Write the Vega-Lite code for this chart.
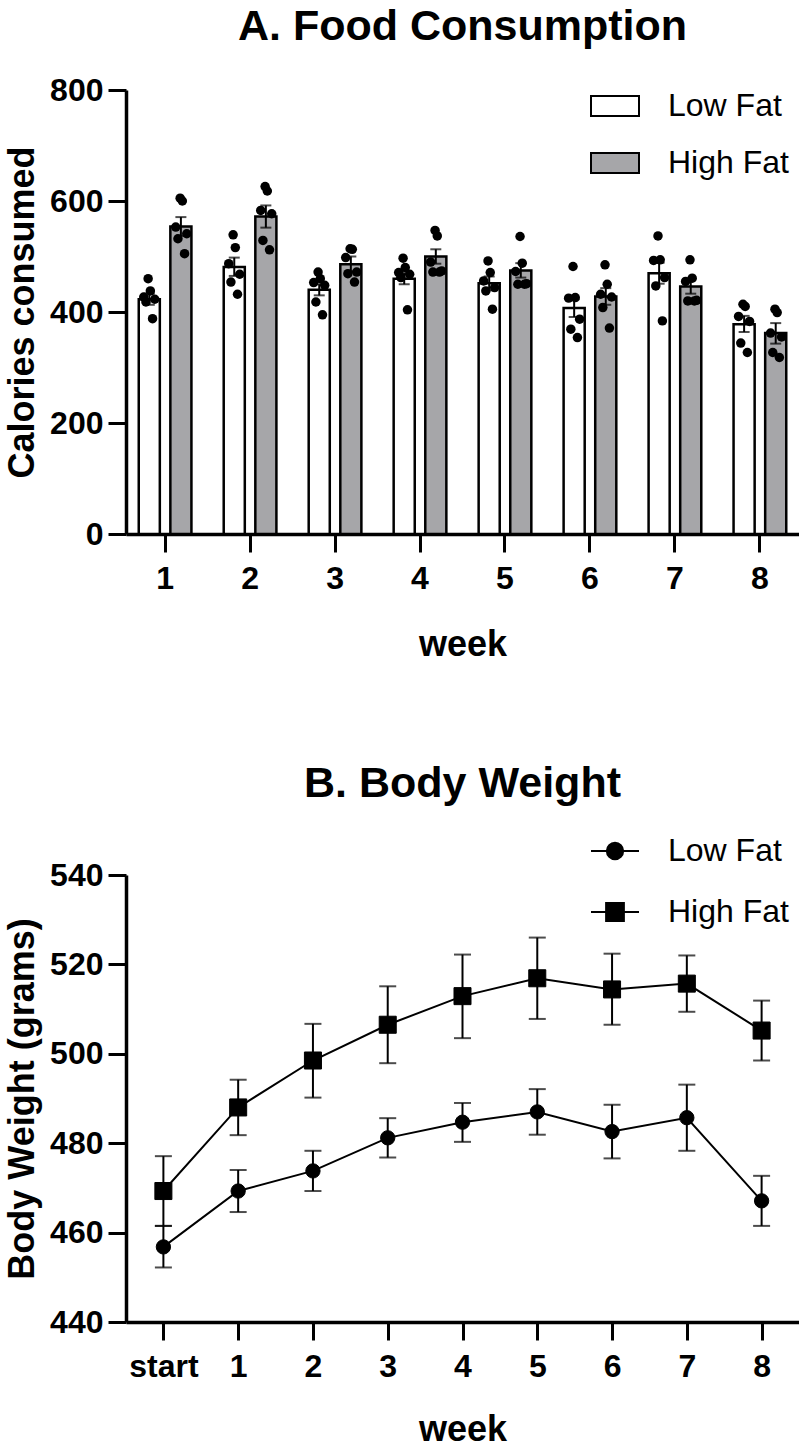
{
  "$schema": "https://vega.github.io/schema/vega-lite/v6.json",
  "background": "white",
  "padding": {"left": 4, "top": 6, "right": 0, "bottom": 0},
  "spacing": 101,
  "resolve": {"legend": {"fill": "independent", "color": "independent"}},
  "config": {
    "font": "Liberation Sans",
    "view": {"stroke": null},
    "axis": {"domainColor": "black", "domainWidth": 3.5, "tickColor": "black", "tickWidth": 3, "tickSize": 18, "labelFont": "Liberation Sans", "labelFontSize": 32, "labelFontWeight": "bold", "labelColor": "black", "titleFont": "Liberation Sans", "titleFontSize": 36, "titleFontWeight": "bold", "titleColor": "black", "grid": false},
    "axisX": {"labelAngle": 0, "labelPadding": 11, "titlePadding": 33},
    "axisY": {"labelPadding": 5, "titlePadding": 8},
    "title": {"font": "Liberation Sans", "fontSize": 43, "fontWeight": "bold", "color": "black", "anchor": "middle", "frame": "group"},
    "legend": {"labelFont": "Liberation Sans", "labelFontSize": 32, "labelColor": "black", "padding": 0}
  },
  "datasets": {
    "food": [
      {"week": 1, "diet": "Low Fat", "mean": 423, "lo": 413, "hi": 433},
      {"week": 1, "diet": "High Fat", "mean": 554, "lo": 537, "hi": 571},
      {"week": 2, "diet": "Low Fat", "mean": 481, "lo": 465, "hi": 498},
      {"week": 2, "diet": "High Fat", "mean": 572, "lo": 552, "hi": 592},
      {"week": 3, "diet": "Low Fat", "mean": 440, "lo": 430, "hi": 450},
      {"week": 3, "diet": "High Fat", "mean": 486, "lo": 473, "hi": 500},
      {"week": 4, "diet": "Low Fat", "mean": 460, "lo": 450, "hi": 470},
      {"week": 4, "diet": "High Fat", "mean": 500, "lo": 487, "hi": 513},
      {"week": 5, "diet": "Low Fat", "mean": 452, "lo": 439, "hi": 464},
      {"week": 5, "diet": "High Fat", "mean": 475, "lo": 462, "hi": 488},
      {"week": 6, "diet": "Low Fat", "mean": 407, "lo": 391, "hi": 423},
      {"week": 6, "diet": "High Fat", "mean": 428, "lo": 413, "hi": 443},
      {"week": 7, "diet": "Low Fat", "mean": 470, "lo": 451, "hi": 489},
      {"week": 7, "diet": "High Fat", "mean": 446, "lo": 433, "hi": 458},
      {"week": 8, "diet": "Low Fat", "mean": 378, "lo": 364, "hi": 393},
      {"week": 8, "diet": "High Fat", "mean": 362, "lo": 343, "hi": 380}
    ],
    "dots": [
      {"week": 1, "diet": "Low Fat", "rat": 3, "kcal": 460}, {"week": 1, "diet": "Low Fat", "rat": 4, "kcal": 438}, {"week": 1, "diet": "Low Fat", "rat": 1, "kcal": 427}, {"week": 1, "diet": "Low Fat", "rat": 6, "kcal": 423}, {"week": 1, "diet": "Low Fat", "rat": 2, "kcal": 418}, {"week": 1, "diet": "Low Fat", "rat": 5, "kcal": 388},
      {"week": 1, "diet": "High Fat", "rat": 3, "kcal": 605}, {"week": 1, "diet": "High Fat", "rat": 4, "kcal": 600}, {"week": 1, "diet": "High Fat", "rat": 1, "kcal": 553}, {"week": 1, "diet": "High Fat", "rat": 6, "kcal": 541}, {"week": 1, "diet": "High Fat", "rat": 2, "kcal": 532}, {"week": 1, "diet": "High Fat", "rat": 5, "kcal": 505},
      {"week": 2, "diet": "Low Fat", "rat": 3, "kcal": 539}, {"week": 2, "diet": "Low Fat", "rat": 4, "kcal": 516}, {"week": 2, "diet": "Low Fat", "rat": 1, "kcal": 487}, {"week": 2, "diet": "Low Fat", "rat": 6, "kcal": 468}, {"week": 2, "diet": "Low Fat", "rat": 2, "kcal": 454}, {"week": 2, "diet": "Low Fat", "rat": 5, "kcal": 432},
      {"week": 2, "diet": "High Fat", "rat": 3, "kcal": 626}, {"week": 2, "diet": "High Fat", "rat": 4, "kcal": 618}, {"week": 2, "diet": "High Fat", "rat": 1, "kcal": 583}, {"week": 2, "diet": "High Fat", "rat": 6, "kcal": 577}, {"week": 2, "diet": "High Fat", "rat": 2, "kcal": 529}, {"week": 2, "diet": "High Fat", "rat": 5, "kcal": 512},
      {"week": 3, "diet": "Low Fat", "rat": 3, "kcal": 472}, {"week": 3, "diet": "Low Fat", "rat": 4, "kcal": 460}, {"week": 3, "diet": "Low Fat", "rat": 1, "kcal": 453}, {"week": 3, "diet": "Low Fat", "rat": 6, "kcal": 448}, {"week": 3, "diet": "Low Fat", "rat": 2, "kcal": 418}, {"week": 3, "diet": "Low Fat", "rat": 5, "kcal": 395},
      {"week": 3, "diet": "High Fat", "rat": 3, "kcal": 514}, {"week": 3, "diet": "High Fat", "rat": 4, "kcal": 513}, {"week": 3, "diet": "High Fat", "rat": 1, "kcal": 498}, {"week": 3, "diet": "High Fat", "rat": 6, "kcal": 472}, {"week": 3, "diet": "High Fat", "rat": 2, "kcal": 469}, {"week": 3, "diet": "High Fat", "rat": 5, "kcal": 454},
      {"week": 4, "diet": "Low Fat", "rat": 3, "kcal": 497}, {"week": 4, "diet": "Low Fat", "rat": 4, "kcal": 480}, {"week": 4, "diet": "Low Fat", "rat": 1, "kcal": 471}, {"week": 4, "diet": "Low Fat", "rat": 6, "kcal": 468}, {"week": 4, "diet": "Low Fat", "rat": 2, "kcal": 462}, {"week": 4, "diet": "Low Fat", "rat": 5, "kcal": 404},
      {"week": 4, "diet": "High Fat", "rat": 3, "kcal": 547}, {"week": 4, "diet": "High Fat", "rat": 4, "kcal": 537}, {"week": 4, "diet": "High Fat", "rat": 1, "kcal": 490}, {"week": 4, "diet": "High Fat", "rat": 6, "kcal": 474}, {"week": 4, "diet": "High Fat", "rat": 2, "kcal": 472}, {"week": 4, "diet": "High Fat", "rat": 5, "kcal": 472},
      {"week": 5, "diet": "Low Fat", "rat": 3, "kcal": 492}, {"week": 5, "diet": "Low Fat", "rat": 4, "kcal": 471}, {"week": 5, "diet": "Low Fat", "rat": 1, "kcal": 456}, {"week": 5, "diet": "Low Fat", "rat": 6, "kcal": 444}, {"week": 5, "diet": "Low Fat", "rat": 2, "kcal": 438}, {"week": 5, "diet": "Low Fat", "rat": 5, "kcal": 405},
      {"week": 5, "diet": "High Fat", "rat": 3, "kcal": 536}, {"week": 5, "diet": "High Fat", "rat": 4, "kcal": 488}, {"week": 5, "diet": "High Fat", "rat": 1, "kcal": 473}, {"week": 5, "diet": "High Fat", "rat": 6, "kcal": 451}, {"week": 5, "diet": "High Fat", "rat": 2, "kcal": 450}, {"week": 5, "diet": "High Fat", "rat": 5, "kcal": 450},
      {"week": 6, "diet": "Low Fat", "rat": 3, "kcal": 482}, {"week": 6, "diet": "Low Fat", "rat": 4, "kcal": 426}, {"week": 6, "diet": "Low Fat", "rat": 1, "kcal": 425}, {"week": 6, "diet": "Low Fat", "rat": 6, "kcal": 387}, {"week": 6, "diet": "Low Fat", "rat": 2, "kcal": 369}, {"week": 6, "diet": "Low Fat", "rat": 5, "kcal": 354},
      {"week": 6, "diet": "High Fat", "rat": 3, "kcal": 485}, {"week": 6, "diet": "High Fat", "rat": 4, "kcal": 450}, {"week": 6, "diet": "High Fat", "rat": 1, "kcal": 432}, {"week": 6, "diet": "High Fat", "rat": 6, "kcal": 427}, {"week": 6, "diet": "High Fat", "rat": 2, "kcal": 408}, {"week": 6, "diet": "High Fat", "rat": 5, "kcal": 371},
      {"week": 7, "diet": "Low Fat", "rat": 3, "kcal": 537}, {"week": 7, "diet": "Low Fat", "rat": 4, "kcal": 494}, {"week": 7, "diet": "Low Fat", "rat": 1, "kcal": 493}, {"week": 7, "diet": "Low Fat", "rat": 6, "kcal": 462}, {"week": 7, "diet": "Low Fat", "rat": 2, "kcal": 447}, {"week": 7, "diet": "Low Fat", "rat": 5, "kcal": 384},
      {"week": 7, "diet": "High Fat", "rat": 3, "kcal": 494}, {"week": 7, "diet": "High Fat", "rat": 4, "kcal": 461}, {"week": 7, "diet": "High Fat", "rat": 1, "kcal": 455}, {"week": 7, "diet": "High Fat", "rat": 6, "kcal": 421}, {"week": 7, "diet": "High Fat", "rat": 2, "kcal": 420}, {"week": 7, "diet": "High Fat", "rat": 5, "kcal": 420},
      {"week": 8, "diet": "Low Fat", "rat": 3, "kcal": 414}, {"week": 8, "diet": "Low Fat", "rat": 4, "kcal": 410}, {"week": 8, "diet": "Low Fat", "rat": 1, "kcal": 392}, {"week": 8, "diet": "Low Fat", "rat": 6, "kcal": 383}, {"week": 8, "diet": "Low Fat", "rat": 2, "kcal": 344}, {"week": 8, "diet": "Low Fat", "rat": 5, "kcal": 327},
      {"week": 8, "diet": "High Fat", "rat": 3, "kcal": 405}, {"week": 8, "diet": "High Fat", "rat": 4, "kcal": 399}, {"week": 8, "diet": "High Fat", "rat": 1, "kcal": 362}, {"week": 8, "diet": "High Fat", "rat": 6, "kcal": 355}, {"week": 8, "diet": "High Fat", "rat": 2, "kcal": 327}, {"week": 8, "diet": "High Fat", "rat": 5, "kcal": 318}
    ],
    "bw": [
      {"week": "start", "diet": "Low Fat", "mean": 456.8, "lo": 452.2, "hi": 461.5},
      {"week": "start", "diet": "High Fat", "mean": 469.3, "lo": 461.5, "hi": 477.1},
      {"week": "1", "diet": "Low Fat", "mean": 469.3, "lo": 464.6, "hi": 474.0},
      {"week": "1", "diet": "High Fat", "mean": 488.0, "lo": 481.8, "hi": 494.2},
      {"week": "2", "diet": "Low Fat", "mean": 473.8, "lo": 469.3, "hi": 478.3},
      {"week": "2", "diet": "High Fat", "mean": 498.5, "lo": 490.2, "hi": 506.7},
      {"week": "3", "diet": "Low Fat", "mean": 481.2, "lo": 476.8, "hi": 485.6},
      {"week": "3", "diet": "High Fat", "mean": 506.5, "lo": 497.9, "hi": 515.1},
      {"week": "4", "diet": "Low Fat", "mean": 484.7, "lo": 480.3, "hi": 489.0},
      {"week": "4", "diet": "High Fat", "mean": 512.9, "lo": 503.5, "hi": 522.2},
      {"week": "5", "diet": "Low Fat", "mean": 487.0, "lo": 481.9, "hi": 492.1},
      {"week": "5", "diet": "High Fat", "mean": 516.9, "lo": 507.8, "hi": 526.0},
      {"week": "6", "diet": "Low Fat", "mean": 482.6, "lo": 476.6, "hi": 488.6},
      {"week": "6", "diet": "High Fat", "mean": 514.4, "lo": 506.5, "hi": 522.4},
      {"week": "7", "diet": "Low Fat", "mean": 485.7, "lo": 478.3, "hi": 493.1},
      {"week": "7", "diet": "High Fat", "mean": 515.7, "lo": 509.4, "hi": 522.0},
      {"week": "8", "diet": "Low Fat", "mean": 467.1, "lo": 461.5, "hi": 472.7},
      {"week": "8", "diet": "High Fat", "mean": 505.2, "lo": 498.5, "hi": 511.9}
    ]
  },
  "vconcat": [
    {
      "title": {"text": "A. Food Consumption", "offset": 25},
      "width": 673,
      "height": 444,
      "resolve": {"scale": {"xOffset": "independent"}},
      "encoding": {
        "x": {"field": "week", "type": "ordinal", "scale": {"paddingInner": 0.38, "paddingOuter": 0.15}, "axis": {"title": "week"}}
      },
      "layer": [
        {
          "data": {"name": "food"},
          "mark": {"type": "bar", "stroke": "black", "strokeWidth": 2.5},
          "encoding": {
            "xOffset": {"field": "diet", "type": "nominal", "scale": {"domain": ["Low Fat", "High Fat"], "paddingInner": 0.333, "paddingOuter": 0}},
            "y": {"field": "mean", "type": "quantitative", "title": "Calories consumed", "scale": {"domain": [0, 800]}, "axis": {"values": [0, 200, 400, 600, 800]}},
            "fill": {"field": "diet", "type": "nominal", "scale": {"domain": ["Low Fat", "High Fat"], "range": ["white", "#a6a6a9"]},
              "legend": {"title": null, "orient": "none", "legendX": 464, "legendY": -9, "symbolType": "M-1,-0.42L1,-0.42L1,0.42L-1,0.42Z", "symbolSize": 2304, "symbolStrokeColor": "black", "symbolStrokeWidth": 2, "labelOffset": 28, "rowPadding": 16}}
          }
        },
        {
          "data": {"name": "food"},
          "mark": {"type": "rule", "color": "black", "strokeWidth": 2},
          "encoding": {
            "xOffset": {"field": "diet", "type": "nominal", "scale": {"domain": ["Low Fat", "High Fat"], "paddingInner": 0.333, "paddingOuter": 0}},
            "y": {"field": "lo", "type": "quantitative", "title": "Calories consumed"},
            "y2": {"field": "hi"}
          }
        },
        {
          "data": {"name": "food"},
          "mark": {"type": "tick", "color": "black", "size": 11, "thickness": 2},
          "encoding": {
            "xOffset": {"field": "diet", "type": "nominal", "scale": {"domain": ["Low Fat", "High Fat"], "paddingInner": 0.333, "paddingOuter": 0}},
            "y": {"field": "lo", "type": "quantitative", "title": "Calories consumed"}
          }
        },
        {
          "data": {"name": "food"},
          "mark": {"type": "tick", "color": "black", "size": 11, "thickness": 2},
          "encoding": {
            "xOffset": {"field": "diet", "type": "nominal", "scale": {"domain": ["Low Fat", "High Fat"], "paddingInner": 0.333, "paddingOuter": 0}},
            "y": {"field": "hi", "type": "quantitative", "title": "Calories consumed"}
          }
        },
        {
          "data": {"name": "dots"},
          "transform": [{"filter": "datum.diet === 'Low Fat'"}],
          "mark": {"type": "circle", "color": "black", "opacity": 1, "size": 90},
          "encoding": {
            "xOffset": {"field": "rat", "type": "ordinal", "scale": {"type": "point", "domain": [1, 2, 3, 4, 5, 6], "range": [5, 16], "padding": 0}},
            "y": {"field": "kcal", "type": "quantitative", "title": "Calories consumed"}
          }
        },
        {
          "data": {"name": "dots"},
          "transform": [{"filter": "datum.diet === 'High Fat'"}],
          "mark": {"type": "circle", "color": "black", "opacity": 1, "size": 90},
          "encoding": {
            "xOffset": {"field": "rat", "type": "ordinal", "scale": {"type": "point", "domain": [1, 2, 3, 4, 5, 6], "range": [37, 48], "padding": 0}},
            "y": {"field": "kcal", "type": "quantitative", "title": "Calories consumed"}
          }
        }
      ]
    },
    {
      "title": {"text": "B. Body Weight", "offset": 20},
      "width": 673,
      "height": 447,
      "data": {"name": "bw"},
      "resolve": {"scale": {"color": "independent"}, "legend": {"color": "independent"}},
      "encoding": {
        "x": {"field": "week", "type": "ordinal", "scale": {"type": "point", "domain": ["start", "1", "2", "3", "4", "5", "6", "7", "8"], "padding": 0.5}, "axis": {"title": "week", "titlePadding": 30}}
      },
      "layer": [
        {
          "mark": {"type": "rule", "color": "black", "strokeWidth": 2},
          "encoding": {
            "y": {"field": "lo", "type": "quantitative", "title": "Body Weight (grams)", "scale": {"domain": [440, 540]}, "axis": {"values": [440, 460, 480, 500, 520, 540]}},
            "y2": {"field": "hi"},
            "detail": {"field": "diet"}
          }
        },
        {
          "mark": {"type": "tick", "color": "black", "size": 17, "thickness": 2},
          "encoding": {"y": {"field": "lo", "type": "quantitative", "title": "Body Weight (grams)"}, "detail": {"field": "diet"}}
        },
        {
          "mark": {"type": "tick", "color": "black", "size": 17, "thickness": 2},
          "encoding": {"y": {"field": "hi", "type": "quantitative", "title": "Body Weight (grams)"}, "detail": {"field": "diet"}}
        },
        {
          "mark": {"type": "line", "color": "black", "strokeWidth": 2},
          "encoding": {"y": {"field": "mean", "type": "quantitative", "title": "Body Weight (grams)"}, "detail": {"field": "diet"}}
        },
        {
          "transform": [{"filter": "datum.diet === 'Low Fat'"}],
          "mark": {"type": "point", "filled": true, "opacity": 1, "shape": "circle", "size": 205, "stroke": "black", "strokeWidth": 1},
          "encoding": {
            "y": {"field": "mean", "type": "quantitative", "title": "Body Weight (grams)"},
            "color": {"field": "diet", "type": "nominal", "scale": {"range": ["black"]},
              "legend": {"title": null, "orient": "none", "legendX": 464, "legendY": -49, "symbolType": "M-1,0L-0.34,0M0.34,0L1,0M-0.34,0A0.34,0.34,0,1,0,0.34,0A0.34,0.34,0,1,0,-0.34,0Z", "symbolSize": 2304, "symbolFillColor": "black", "symbolStrokeColor": "black", "symbolStrokeWidth": 2, "labelOffset": 28}}
          }
        },
        {
          "transform": [{"filter": "datum.diet === 'High Fat'"}],
          "mark": {"type": "point", "filled": true, "opacity": 1, "shape": "square", "size": 290, "stroke": "black", "strokeWidth": 1},
          "encoding": {
            "y": {"field": "mean", "type": "quantitative", "title": "Body Weight (grams)"},
            "color": {"field": "diet", "type": "nominal", "scale": {"range": ["black"]},
              "legend": {"title": null, "orient": "none", "legendX": 464, "legendY": 12, "symbolType": "M-1,0L-0.37,0M0.37,0L1,0M-0.37,-0.37L0.37,-0.37L0.37,0.37L-0.37,0.37Z", "symbolSize": 2304, "symbolFillColor": "black", "symbolStrokeColor": "black", "symbolStrokeWidth": 2, "labelOffset": 28}}
          }
        }
      ]
    }
  ]
}
